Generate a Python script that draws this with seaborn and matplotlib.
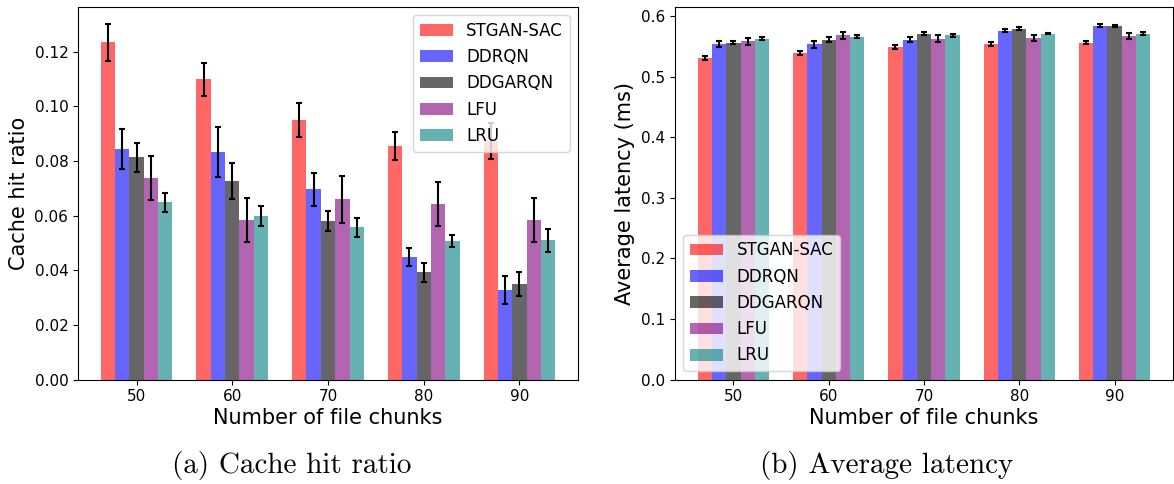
import numpy as np
import pandas as pd
import matplotlib
matplotlib.use("Agg")
import matplotlib.pyplot as plt
import seaborn as sns

chunks = ["50", "60", "70", "80", "90"]
methods = ["STGAN-SAC", "DDRQN", "DDGARQN", "LFU", "LRU"]
colors = ["red", "blue", "black", "purple", "teal"]

hit_stgan = [0.1233, 0.1099, 0.0949, 0.0854, 0.0872]
hit_ddrqn = [0.0843, 0.0832, 0.0696, 0.0448, 0.0327]
hit_ddgarqn = [0.0813, 0.0726, 0.0579, 0.0393, 0.0349]
hit_lfu = [0.0737, 0.0583, 0.0660, 0.0641, 0.0583]
hit_lru = [0.0649, 0.0598, 0.0557, 0.0506, 0.0510]

hit_err_stgan = [0.0066, 0.0060, 0.0062, 0.0050, 0.0065]
hit_err_ddrqn = [0.0072, 0.0090, 0.0060, 0.0034, 0.0050]
hit_err_ddgarqn = [0.0052, 0.0067, 0.0036, 0.0035, 0.0044]
hit_err_lfu = [0.0080, 0.0080, 0.0086, 0.0081, 0.0080]
hit_err_lru = [0.0035, 0.0036, 0.0034, 0.0023, 0.0042]

lat_stgan = [0.531, 0.539, 0.549, 0.554, 0.556]
lat_ddrqn = [0.553, 0.553, 0.561, 0.576, 0.584]
lat_ddgarqn = [0.556, 0.561, 0.571, 0.579, 0.583]
lat_lfu = [0.558, 0.568, 0.5625, 0.564, 0.5675]
lat_lru = [0.5625, 0.566, 0.568, 0.571, 0.571]

lat_err_stgan = [0.003, 0.003, 0.003, 0.003, 0.003]
lat_err_ddrqn = [0.005, 0.006, 0.004, 0.002, 0.002]
lat_err_ddgarqn = [0.003, 0.004, 0.002, 0.002, 0.002]
lat_err_lfu = [0.006, 0.006, 0.006, 0.005, 0.005]
lat_err_lru = [0.002, 0.002, 0.002, 0.001, 0.002]


def make_df(series, errs):
    rows = []
    for m, vals, es in zip(methods, series, errs):
        for c, v, e in zip(chunks, vals, es):
            rows.append({"chunks": c, "method": m, "value": v, "err": e})
    return pd.DataFrame(rows)


hit_df = make_df([hit_stgan, hit_ddrqn, hit_ddgarqn, hit_lfu, hit_lru],
                 [hit_err_stgan, hit_err_ddrqn, hit_err_ddgarqn, hit_err_lfu, hit_err_lru])
lat_df = make_df([lat_stgan, lat_ddrqn, lat_ddgarqn, lat_lfu, lat_lru],
                 [lat_err_stgan, lat_err_ddrqn, lat_err_ddgarqn, lat_err_lfu, lat_err_lru])

fig = plt.figure(figsize=(11.74, 4.84), dpi=100)
W, H = 1174, 484
ax1 = fig.add_axes([78 / W, (H - 379.5) / H, 500 / W, 372.8 / H])
ax2 = fig.add_axes([675 / W, (H - 379.5) / H, 498 / W, 372.8 / H])


def draw(ax, df, ylabel, legend_loc):
    sns.barplot(data=df, x="chunks", y="value", hue="method", order=chunks,
                hue_order=methods, palette=colors, alpha=0.6, saturation=1,
                width=0.75, linewidth=0, errorbar=None, ax=ax)
    for cont, m in zip(ax.containers, methods):
        sub = df[df["method"] == m].set_index("chunks").loc[chunks]
        xs = [b.get_x() + b.get_width() / 2 for b in cont]
        ax.errorbar(xs, sub["value"].values, yerr=sub["err"].values, fmt="none",
                    ecolor="black", elinewidth=1.5, capsize=2.5, capthick=1.5)
    ax.set_xlabel("Number of file chunks", fontsize=15, labelpad=3)
    ax.set_ylabel(ylabel, fontsize=15)
    ax.tick_params(labelsize=11)
    ax.legend(loc=legend_loc, fontsize=12, title=None)


draw(ax1, hit_df, "Cache hit ratio", "upper right")
draw(ax2, lat_df, "Average latency (ms)", "lower left")
ax1.set_yticks(np.arange(0, 0.121, 0.02))
ax1.set_yticklabels([f"{v:.2f}" for v in np.arange(0, 0.121, 0.02)])

fig.text(291.5 / W, 1 - 465 / H, "(a) Cache hit ratio", family="cmr10",
         fontsize=21, ha="center", va="center")
fig.text(887 / W, 1 - 465 / H, "(b) Average latency", family="cmr10",
         fontsize=21, ha="center", va="center")

fig.savefig("out.png", dpi=100)
